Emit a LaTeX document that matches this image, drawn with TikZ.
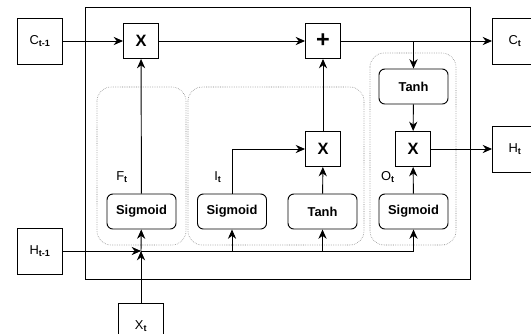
\documentclass[tikz,border=0pt]{standalone}
\usepackage{fontspec}
\setmainfont{Liberation Sans}
\usepackage{tikz}
\usetikzlibrary{arrows.meta}
\tikzstyle{arrow} = [-{Stealth[length=8pt,width=7pt]},line width=0.8pt]
\tikzstyle{link} = [line width=0.8pt]
\tikzstyle{iobox} = [draw,line width=0.8pt,minimum width=1.35cm,minimum height=1.38cm,font=\fontsize{11}{13}\selectfont]
\tikzstyle{opbox} = [draw,line width=0.8pt,minimum size=1.05cm,font=\fontsize{14}{16}\selectfont\bfseries]
\tikzstyle{gate} = [draw,rounded corners=5pt,line width=0.8pt,minimum width=2.07cm,minimum height=1.05cm,font=\fontsize{11}{13}\selectfont\bfseries]
\tikzstyle{group} = [draw=gray,densely dotted,rounded corners=12pt,line width=0.5pt]
\tikzstyle{tag} = [font=\fontsize{11}{13}\selectfont]

\begin{document}
\begin{tikzpicture}[x=0.03cm,y=-0.03cm]
        \useasboundingbox (0,0) rectangle (531,333);
        % cell frame and gate groups
        \draw[link] (85,7) rectangle (470,279);
        \draw[group] (97,87) rectangle (186,245);
        \draw[group] (188,87) rectangle (364,245);
        \draw[group] (370,53) rectangle (456,245);

        \node[iobox] at (40,41) (cprev) {C\textsubscript{\textbf{t-1}}};
        \node[iobox] at (40,251) (hprev) {H\textsubscript{\textbf{t-1}}};
        \node[iobox] at (141,326) (xin) {X\textsubscript{\textbf{t}}};
        \node[iobox] at (515,41) (cnext) {C\textsubscript{\textbf{t}}};
        \node[iobox] at (515,149) (hnext) {H\textsubscript{\textbf{t}}};

        \node[opbox] at (141,41) (mulf) {X};
        \node[opbox,font=\fontsize{20}{22}\selectfont\bfseries] at (323,41) (add) {+};
        \node[opbox] at (323,149) (muli) {X};
        \node[opbox] at (413,149) (mulo) {X};

        \node[gate] at (141.5,211.5) (sigf) {Sigmoid};
        \node[gate] at (232,211.5) (sigi) {Sigmoid};
        \node[gate] at (322.5,211.5) (tanhi) {Tanh};
        \node[gate] at (413.5,211.5) (sigo) {Sigmoid};
        \node[gate] at (413.5,86.5) (tanhc) {Tanh};

        \node[tag] at (122,177) (ft) {F\textsubscript{\textbf{t}}};
        \node[tag] at (218,177) (it) {I\textsubscript{\textbf{t}}};
        \node[tag] at (388,177) (ot) {O\textsubscript{\textbf{t}}};

        \coordinate (mix) at (141,251);
        \coordinate (cfork) at (413.5,41);

        % cell state path
        \draw[arrow] (cprev) -- (mulf);
        \draw[arrow] (mulf) -- (add);
        \draw[arrow] (add) -- (cnext);
        \draw[arrow] (cfork) -- (tanhc);
        \draw[arrow] (tanhc) -- (mulo);
        \draw[arrow] (mulo) -- (hnext);

        % gates
        \draw[arrow] (sigf) -- (mulf);
        \draw[arrow] (sigi.north) |- (muli.west);
        \draw[arrow] (tanhi) -- (muli);
        \draw[arrow] (muli) -- (add);
        \draw[arrow] (sigo) -- (mulo);

        % inputs
        \draw[arrow] (hprev.east |- mix) -- (mix);
        \draw[arrow] (xin) -- (mix);
        \draw[arrow] (mix) -- (sigf);
        \draw[link] (mix) -- (sigo.south |- mix);
        \draw[arrow] (sigi.south |- mix) -- (sigi);
        \draw[arrow] (tanhi.south |- mix) -- (tanhi);
        \draw[arrow] (sigo.south |- mix) -- (sigo);
    \end{tikzpicture}
\end{document}
